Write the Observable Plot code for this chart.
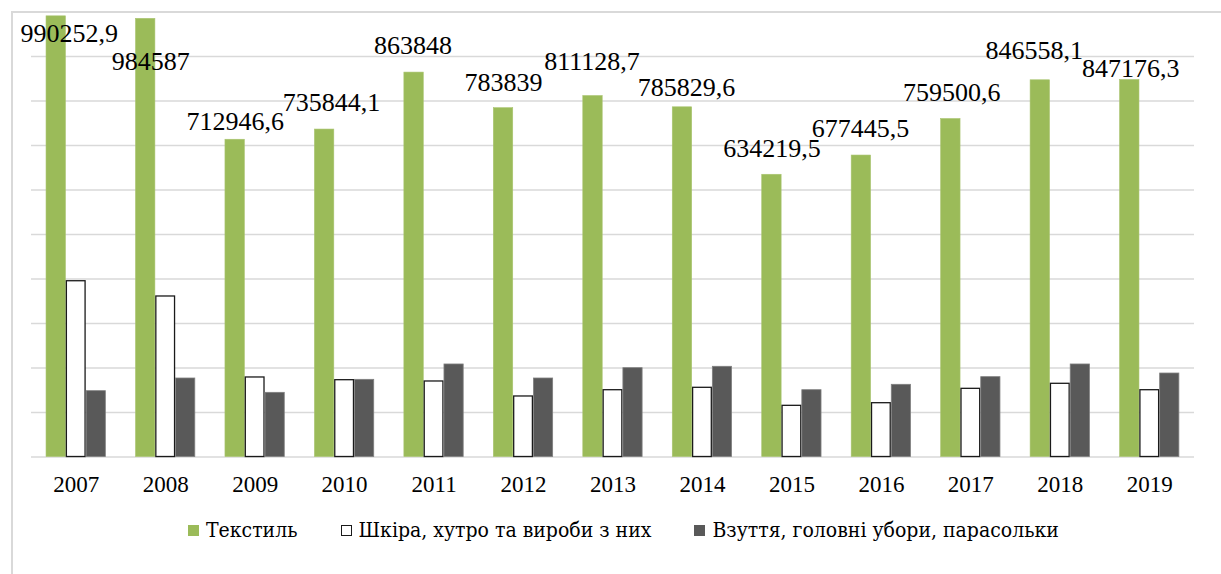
<!DOCTYPE html>
<html>
<head>
<meta charset="utf-8">
<script src="https://cdn.jsdelivr.net/npm/d3@7"></script>
<script src="https://cdn.jsdelivr.net/npm/@observablehq/plot@0.6"></script>
<style>
  html, body { margin: 0; padding: 0; background: #fff; }
  #wrap { position: relative; width: 1221px; height: 574px; overflow: hidden; }
  #frame { position: absolute; left: 11px; top: 11px; width: 1300px; height: 700px; border-left: 2px solid #d9d9d9; border-top: 2px solid #d9d9d9; }
  #chart { position: absolute; left: 0; top: 0; }
  #legend { position: absolute; left: 188px; top: 518px; display: flex; align-items: center; color: #000; white-space: nowrap; }
  #legend span.t { font-family: 'DejaVu Serif Condensed', 'DejaVu Serif', serif; font-size: 21px; }
  .item { display: flex; align-items: center; margin-right: 43px; }
  .sw { width: 11px; height: 11px; box-sizing: border-box; margin-right: 7px; }
</style>
</head>
<body>
<div id="wrap">
  <div id="frame"></div>
  <div id="chart"></div>
  <div id="legend"></div>
</div>
<script>
// ---- data ----
const years = ["2007","2008","2009","2010","2011","2012","2013","2014","2015","2016","2017","2018","2019"];
const seriesNames = ["Текстиль", "Шкіра, хутро та вироби з них", "Взуття, головні убори, парасольки"];
const textile  = [990252.9, 984587, 712946.6, 735844.1, 863848, 783839, 811128.7, 785829.6, 634219.5, 677445.5, 759500.6, 846558.1, 847176.3];
const leather  = [395000, 360700, 178700, 172600, 169700, 136000, 150100, 155500, 115000, 120900, 153200, 164500, 150100];
const footwear = [147900, 176400, 144200, 173400, 207900, 176400, 199600, 202700, 150100, 162200, 179400, 207900, 187600];

// ---- styling ----
const colors = ["#9bbb59", "#ffffff", "#595959"];
const strokes = ["#a9c46f", "#1a1a1a", "#7f7f7f"];
const strokeWidths = [0.6, 1.3, 0.8];
const offsets = [-20, 0, 20];
// label nudges (pixels) relative to the top of the green bar
const labelNudge = {
  "2007": [13, 17], "2008": [5, 43], "2009": [0, -18], "2010": [7, -27],
  "2011": [-1, -27], "2012": [0, -26], "2013": [-1, -34], "2014": [4, -20],
  "2015": [0, -26], "2016": [-1, -27], "2017": [1, -26], "2018": [-6, -30], "2019": [1, -11]
};

const allSeries = [textile, leather, footwear];
const rows = allSeries.map((vals) => years.map((year, i) => ({year, value: vals[i]})));
const fmt = (v) => String(v).replace(".", ",");

const barMarks = rows.map((data, k) => Plot.barY(data, {
  x: "year", y: "value", dx: offsets[k],
  fill: colors[k], stroke: strokes[k], strokeWidth: strokeWidths[k],
  insetLeft: strokeWidths[k] / 2, insetRight: strokeWidths[k] / 2
}));

const labelMarks = rows[0].map((d) => Plot.text([d], {
  x: "year", y: "value", text: (r) => fmt(r.value),
  dx: offsets[0] + labelNudge[d.year][0], dy: labelNudge[d.year][1],
  lineAnchor: "middle", textAnchor: "middle",
  fontSize: 26, fill: "#000", fontFamily: "Liberation Serif"
}));

const chart = Plot.plot({
  width: 1221, height: 505,
  marginTop: 11.5, marginBottom: 48.5, marginLeft: 31, marginRight: 27,
  x: {type: "band", domain: years, paddingInner: 0.7764, paddingOuter: 0.3882, round: false, label: null},
  y: {domain: [0, 1000000], axis: null},
  style: {fontFamily: "Liberation Serif", background: "transparent", overflow: "visible"},
  marks: [
    Plot.gridY({ticks: 10, stroke: "#d9d9d9", strokeOpacity: 1, strokeWidth: 1.5}),
    ...barMarks,
    ...labelMarks,
    Plot.axisX({tickSize: 0, tickPadding: 19, fontSize: 23, fill: "#000", label: null, fontFamily: "Liberation Serif"})
  ]
});
document.getElementById("chart").appendChild(chart);

// ---- legend ----
const legend = document.getElementById("legend");
seriesNames.forEach((name, k) => {
  const item = document.createElement("div");
  item.className = "item";
  const sw = document.createElement("span");
  sw.className = "sw";
  sw.style.background = colors[k];
  if (k === 1) sw.style.border = "1px solid #1a1a1a";
  const t = document.createElement("span");
  t.className = "t";
  t.textContent = name;
  item.appendChild(sw);
  item.appendChild(t);
  legend.appendChild(item);
});
</script>
</body>
</html>
